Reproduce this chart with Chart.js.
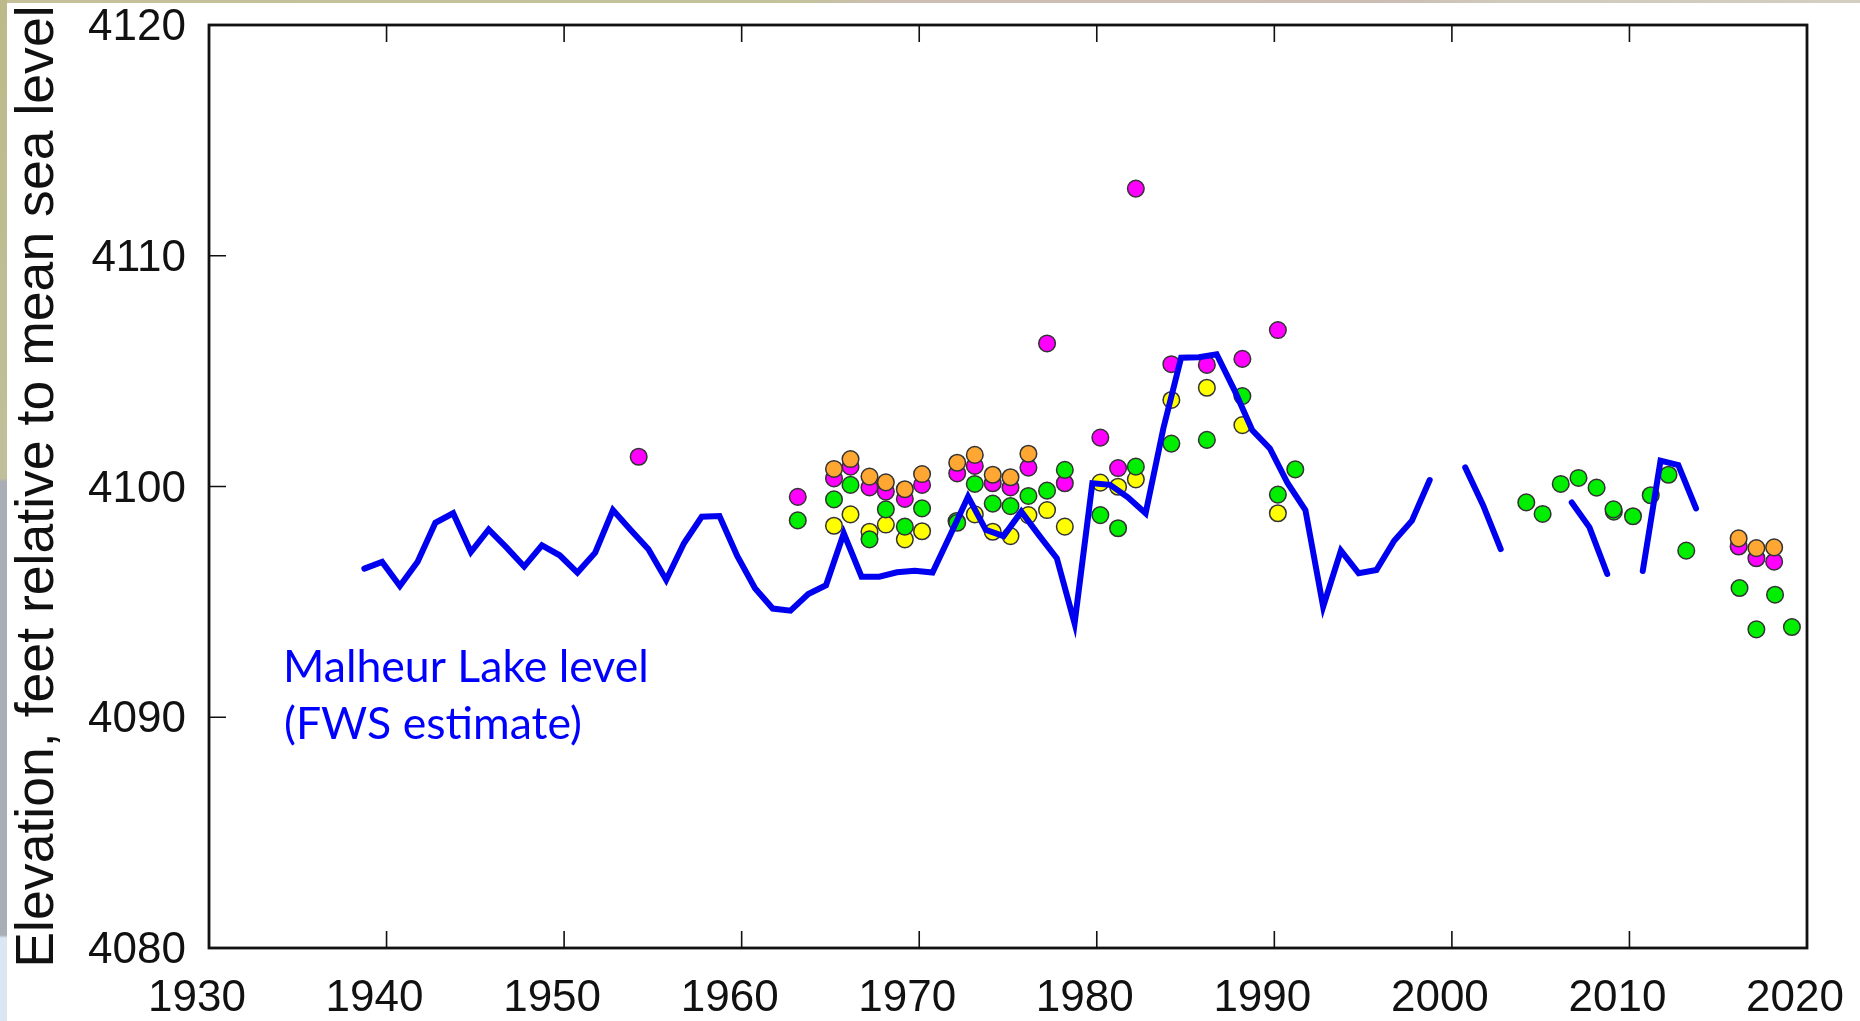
<!DOCTYPE html>
<html>
<head>
<meta charset="utf-8">
<title>Malheur Lake level</title>
<script src="https://cdn.jsdelivr.net/npm/chart.js@4/dist/chart.umd.js"></script>
<style>
  html, body { margin: 0; padding: 0; width: 1860px; height: 1021px; overflow: hidden; background: #fff; }
  /* slide picture showing behind the white plot image */
  #strip-top { position: absolute; left: 0; top: 0; width: 1860px; height: 3px;
    background: linear-gradient(90deg, #c4c09a 0, #c2c39a 790px, #cdbdb5 900px, #cbbcb4 1380px, #cfcabb 1500px, #d2cec2 1860px); }
  #strip-left { position: absolute; left: 0; top: 0; width: 7px; height: 1021px;
    background: linear-gradient(180deg, #bdb98a 0, #bfc09a 478px, #a9adb5 482px, #a9adb5 935px, #dbe6f4 938px, #dbe6f4 1021px); }
  #cv { position: absolute; left: 0; top: 0; }
</style>
</head>
<body>
<div id="strip-top"></div>
<div id="strip-left"></div>
<canvas id="cv" width="1860" height="1021"></canvas>
<script>
// lake level, null = no estimate that year
var lakeYears = [1938.75, 1939.75, 1940.75, 1941.75, 1942.75, 1943.75, 1944.75, 1945.75, 1946.75, 1947.75,
  1948.75, 1949.75, 1950.75, 1951.75, 1952.75, 1953.75, 1954.75, 1955.75, 1956.75, 1957.75,
  1958.75, 1959.75, 1960.75, 1961.75, 1962.75, 1963.75, 1964.75, 1965.75, 1966.75, 1967.75,
  1968.75, 1969.75, 1970.75, 1971.75, 1972.75, 1973.75, 1974.75, 1975.75, 1976.75, 1977.75,
  1978.75, 1979.75, 1980.75, 1981.75, 1982.75, 1983.75, 1984.75, 1985.75, 1986.75, 1987.75,
  1988.75, 1989.75, 1990.75, 1991.75, 1992.75, 1993.75, 1994.75, 1995.75, 1996.75, 1997.75,
  1998.75, 1999.75, 2000.75, 2001.75, 2002.75, 2003.75, 2004.75, 2005.75, 2006.75, 2007.75,
  2008.75, 2009.75, 2010.75, 2011.75, 2012.75, 2013.75];
var lakeLevels = [4096.44, 4096.73, 4095.69, 4096.74, 4098.43, 4098.84, 4097.16, 4098.14, 4097.36, 4096.53,
  4097.45, 4097.02, 4096.27, 4097.13, 4098.98, 4098.12, 4097.28, 4095.95, 4097.54, 4098.69,
  4098.72, 4096.99, 4095.59, 4094.71, 4094.62, 4095.34, 4095.72, 4097.97, 4096.09, 4096.09,
  4096.28, 4096.35, 4096.27, 4097.90, 4099.56, 4098.12, 4097.85, 4098.91, 4097.88, 4096.89,
  4094.07, 4100.14, 4100.07, 4099.53, 4098.84, 4102.52, 4105.58, 4105.60, 4105.73, 4104.18,
  4102.45, 4101.65, 4100.14, 4098.98, 4094.79, 4097.22, 4096.24, 4096.38, 4097.65, 4098.52,
  4100.28, null, 4100.83, 4099.20, 4097.29, null, null, null, 4099.31, 4098.23,
  4096.21, null, 4096.34, 4101.12, 4100.93, 4099.05];

var magentaYears = [1954.2, 1963.16, 1965.2, 1966.13, 1967.2, 1968.12, 1969.19, 1970.16, 1972.14, 1973.13,
  1974.14, 1975.14, 1976.15, 1977.2, 1978.2, 1980.2, 1981.2, 1982.2, 1984.2, 1986.2, 1988.2, 1990.2,
  2016.15, 2017.15, 2018.15];
var magentaValues = [4101.29, 4099.55, 4100.35, 4100.86, 4099.96, 4099.78, 4099.46, 4100.07, 4100.57, 4100.89,
  4100.14, 4099.96, 4100.82, 4106.2, 4100.14, 4102.12, 4100.8, 4112.91, 4105.3, 4105.27, 4105.53, 4106.78,
  4097.4, 4096.89, 4096.74];

var orangeYears = [1965.2, 1966.13, 1967.2, 1968.12, 1969.19, 1970.16, 1972.14, 1973.13, 1974.14, 1975.14,
  1976.15, 2016.15, 2017.15, 2018.15];
var orangeValues = [4100.76, 4101.19, 4100.43, 4100.18, 4099.88, 4100.54, 4101.03, 4101.37, 4100.51, 4100.4,
  4101.42, 4097.75, 4097.33, 4097.36];

var yellowYears = [1965.2, 1966.13, 1967.2, 1968.12, 1969.19, 1970.16, 1973.13, 1974.14, 1975.14, 1976.15,
  1977.2, 1978.2, 1980.2, 1981.2, 1982.2, 1984.2, 1986.2, 1988.2, 1990.2];
var yellowValues = [4098.3, 4098.79, 4098.04, 4098.35, 4097.71, 4098.06, 4098.79, 4098.04, 4097.85, 4098.76,
  4098.98, 4098.26, 4100.17, 4099.99, 4100.31, 4103.75, 4104.28, 4102.66, 4098.84];

var greenYears = [1963.16, 1965.2, 1966.13, 1967.2, 1968.12, 1969.19, 1970.16, 1972.1, 1972.14, 1973.13,
  1974.14, 1975.14, 1976.15, 1977.2, 1978.2, 1980.2, 1981.2, 1982.2, 1984.2, 1986.2, 1988.2, 1990.2, 1991.18,
  2004.19, 2005.11, 2006.13, 2007.13, 2008.15, 2009.12, 2009.1, 2010.2, 2011.2, 2012.2, 2013.2,
  2016.2, 2017.15, 2018.2, 2019.15];
var greenValues = [4098.53, 4099.44, 4100.07, 4097.71, 4099.01, 4098.26, 4099.05, 4098.5, 4098.43, 4100.11,
  4099.26, 4099.15, 4099.59, 4099.82, 4100.72, 4098.76, 4098.19, 4100.86, 4101.86, 4102.02, 4103.92, 4099.65, 4100.74,
  4099.31, 4098.81, 4100.11, 4100.37, 4099.95, 4098.91, 4099.01, 4098.71, 4099.62, 4100.51, 4097.22,
  4095.6, 4093.81, 4095.31, 4093.91];

var noteLines = ["Malheur Lake level", "(FWS estimate)"];

function toPoints(xs, ys) {
  return xs.map(function (x, i) { return { x: x, y: ys[i] }; });
}

function dotSeries(name, xs, ys, color, order) {
  return {
    label: name,
    data: toPoints(xs, ys),
    showLine: false,
    pointRadius: 8.3,
    pointHoverRadius: 8.3,
    pointBackgroundColor: color,
    pointBorderColor: "#333333",
    pointBorderWidth: 1.5,
    order: order
  };
}

// box round the plot, with short ticks pointing in on left, bottom and top only
var frameTicks = {
  id: "frameTicks",
  afterDraw: function (chart) {
    var ctx = chart.ctx;
    var a = chart.chartArea;
    var xs = chart.scales.x;
    var ys = chart.scales.y;
    ctx.save();
    ctx.strokeStyle = "#111111";
    ctx.lineWidth = 1.6;
    ctx.beginPath();
    xs.ticks.forEach(function (t) {
      var px = xs.getPixelForValue(t.value);
      ctx.moveTo(px, a.bottom);
      ctx.lineTo(px, a.bottom - 17);
      ctx.moveTo(px, a.top);
      ctx.lineTo(px, a.top + 17);
    });
    ys.ticks.forEach(function (t) {
      var py = ys.getPixelForValue(t.value);
      ctx.moveTo(a.left, py);
      ctx.lineTo(a.left + 17, py);
    });
    ctx.stroke();
    ctx.lineWidth = 2.8;
    ctx.strokeRect(a.left, a.top, a.right - a.left, a.bottom - a.top);
    ctx.restore();
  }
};

var lakeNote = {
  id: "lakeNote",
  afterDatasetsDraw: function (chart) {
    var ctx = chart.ctx;
    ctx.save();
    ctx.fillStyle = "#0000ff";
    ctx.font = "44.6px Lato";
    ctx.textAlign = "left";
    ctx.textBaseline = "alphabetic";
    ctx.fillText(noteLines[0], 283, 682);
    ctx.fillText(noteLines[1], 284, 739);
    ctx.restore();
  }
};

var ctx = document.getElementById("cv").getContext("2d");
var chart = new Chart(ctx, {
  type: "scatter",
  data: {
    datasets: [
      {
        label: "Malheur Lake level",
        data: toPoints(lakeYears, lakeLevels),
        showLine: true,
        spanGaps: false,
        borderColor: "#0000f0",
        borderWidth: 6,
        borderJoinStyle: "miter",
        borderCapStyle: "round",
        pointRadius: 0,
        order: 0
      },
      dotSeries("orange", orangeYears, orangeValues, "#ffa733", 1),
      dotSeries("green", greenYears, greenValues, "#00ee00", 2),
      dotSeries("magenta", magentaYears, magentaValues, "#ff00ff", 3),
      dotSeries("yellow", yellowYears, yellowValues, "#ffff00", 4)
    ]
  },
  options: {
    responsive: false,
    animation: false,
    events: [],
    layout: { padding: { top: 25, right: 53, left: 0, bottom: 0 } },
    plugins: {
      legend: { display: false },
      tooltip: { enabled: false }
    },
    scales: {
      x: {
        type: "linear",
        min: 1930,
        max: 2020,
        grid: { display: false },
        border: { display: false },
        afterFit: function (scale) {
          scale.height = 73;
          scale.paddingLeft = 0;
          scale.paddingRight = 0;
        },
        ticks: {
          stepSize: 10,
          autoSkip: false,
          maxRotation: 0,
          padding: 16,
          labelOffset: -12,
          color: "#111111",
          font: { family: "Liberation Sans", size: 44 },
          callback: function (v) { return String(v); }
        }
      },
      y: {
        type: "linear",
        min: 4080,
        max: 4120,
        grid: { display: false },
        border: { display: false },
        afterFit: function (scale) {
          scale.width = 209;
          scale.paddingTop = 0;
          scale.paddingBottom = 0;
        },
        title: {
          display: true,
          text: "Elevation, feet relative to mean sea level",
          color: "#111111",
          font: { family: "Liberation Sans", size: 53.6 },
          padding: { top: 6, bottom: 0 }
        },
        ticks: {
          stepSize: 10,
          padding: 15,
          labelOffset: 3,
          color: "#111111",
          font: { family: "Liberation Sans", size: 44 },
          callback: function (v) { return String(v); }
        }
      }
    }
  },
  plugins: [frameTicks, lakeNote]
});
</script>
</body>
</html>
